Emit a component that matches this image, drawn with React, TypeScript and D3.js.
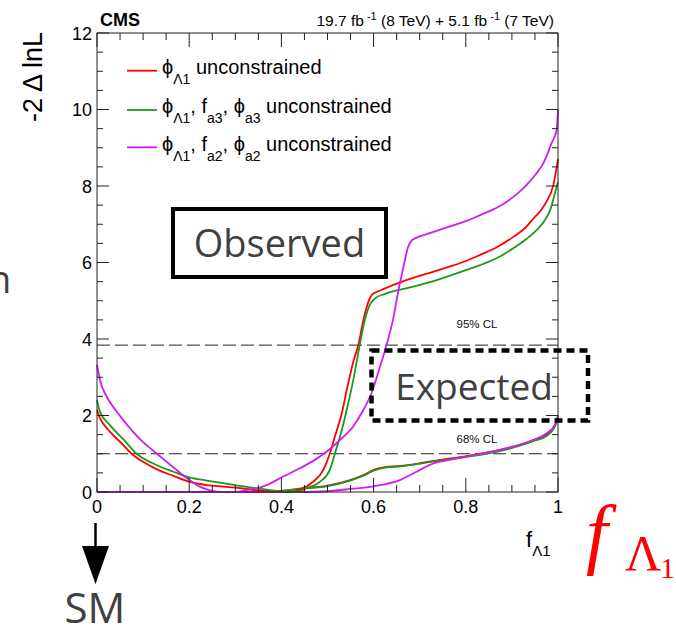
import React from 'react';
import * as d3 from 'd3';

const W = 676;
const H = 628;
const PL = 97, PR = 558, PB = 492, PT = 33;

// axis ticks
const xMajor = [0, 0.2, 0.4, 0.6, 0.8, 1];
const xLabels = ['0', '0.2', '0.4', '0.6', '0.8', '1'];
const yMajor = [0, 2, 4, 6, 8, 10, 12];
const yLabels = ['0', '2', '4', '6', '8', '10', '12'];

// observed scans
const obsRedF = [0, 0.0065, 0.028, 0.057, 0.075, 0.1, 0.13, 0.166, 0.2, 0.238, 0.274, 0.31, 0.346, 0.375, 0.4, 0.42, 0.44, 0.469, 0.491, 0.505, 0.516, 0.531, 0.545, 0.557, 0.567, 0.578, 0.588, 0.596, 0.605, 0.617, 0.65, 0.686, 0.72, 0.759, 0.8, 0.831, 0.87, 0.903, 0.93, 0.947, 0.965, 0.975, 0.99, 1.0];
const obsRedV = [2.14, 1.93, 1.58, 1.23, 1.0, 0.79, 0.59, 0.42, 0.27, 0.18, 0.14, 0.1, 0.05, 0.03, 0.01, 0.0, 0.06, 0.27, 0.58, 1.0, 1.45, 2.06, 2.85, 3.45, 3.85, 4.5, 4.95, 5.15, 5.22, 5.28, 5.45, 5.6, 5.72, 5.87, 6.04, 6.2, 6.42, 6.67, 6.92, 7.15, 7.4, 7.59, 8.03, 8.7];

const obsGreenF = [0, 0.0065, 0.028, 0.057, 0.086, 0.13, 0.166, 0.2, 0.238, 0.274, 0.31, 0.346, 0.375, 0.41, 0.43, 0.455, 0.484, 0.505, 0.516, 0.531, 0.545, 0.556, 0.57, 0.581, 0.592, 0.603, 0.625, 0.65, 0.686, 0.72, 0.759, 0.8, 0.831, 0.87, 0.903, 0.93, 0.954, 0.97, 0.983, 0.997, 1.0];
const obsGreenV = [2.4, 2.1, 1.75, 1.38, 1.0, 0.7, 0.53, 0.38, 0.3, 0.23, 0.16, 0.1, 0.05, 0.01, 0.0, 0.1, 0.27, 0.58, 1.0, 1.62, 2.32, 2.93, 3.85, 4.5, 4.9, 5.06, 5.18, 5.27, 5.37, 5.48, 5.63, 5.8, 5.93, 6.13, 6.37, 6.6, 6.85, 7.08, 7.37, 7.98, 8.11];

const obsMagF = [0, 0.0065, 0.021, 0.04, 0.057, 0.075, 0.093, 0.11, 0.13, 0.15, 0.166, 0.195, 0.223, 0.24, 0.252, 0.27, 0.29, 0.31, 0.325, 0.354, 0.375, 0.4, 0.44, 0.47, 0.5, 0.527, 0.556, 0.578, 0.596, 0.612, 0.628, 0.642, 0.654, 0.665, 0.675, 0.683, 0.69, 0.72, 0.759, 0.8, 0.831, 0.87, 0.889, 0.91, 0.932, 0.95, 0.968, 0.986, 0.997, 1.0];
const obsMagV = [3.32, 2.93, 2.49, 2.15, 1.88, 1.62, 1.38, 1.2, 1.0, 0.8, 0.64, 0.36, 0.14, 0.06, 0.02, 0.0, 0.0, 0.01, 0.05, 0.12, 0.22, 0.38, 0.62, 0.82, 1.07, 1.36, 1.72, 2.15, 2.6, 3.2, 3.84, 4.5, 5.28, 5.9, 6.41, 6.58, 6.63, 6.76, 6.92, 7.08, 7.24, 7.45, 7.59, 7.78, 8.03, 8.28, 8.59, 9.12, 9.46, 9.99];

// expected scans
const expRedF = [0, 0.1, 0.2, 0.3, 0.35, 0.4, 0.447, 0.498, 0.549, 0.578, 0.603, 0.625, 0.657, 0.7, 0.744, 0.802, 0.874, 0.947, 0.975, 0.993, 1.0];
const expRedV = [0, 0.0, 0.0, 0.0, 0.01, 0.03, 0.1, 0.16, 0.31, 0.44, 0.59, 0.65, 0.68, 0.75, 0.84, 0.94, 1.1, 1.36, 1.5, 1.75, 1.97];
const expGreenF = [0, 0.1, 0.2, 0.3, 0.35, 0.4, 0.447, 0.498, 0.549, 0.578, 0.603, 0.625, 0.657, 0.7, 0.744, 0.802, 0.874, 0.947, 0.975, 0.993, 1.0];
const expGreenV = [0, 0.0, 0.0, 0.0, 0.01, 0.03, 0.09, 0.15, 0.3, 0.43, 0.57, 0.64, 0.67, 0.74, 0.82, 0.92, 1.07, 1.33, 1.46, 1.7, 1.92];
const expMagF = [0, 0.2, 0.4, 0.45, 0.5, 0.55, 0.6, 0.657, 0.693, 0.73, 0.77, 0.802, 0.874, 0.946, 0.975, 0.993, 1.0];
const expMagV = [0, 0.0, 0.0, 0.0, 0.02, 0.08, 0.15, 0.31, 0.53, 0.75, 0.85, 0.93, 1.1, 1.36, 1.53, 1.75, 2.01];

const clLevels = [1.0, 3.84];
const clLabels = ['68% CL', '95% CL'];
const clLabelY = [1.28, 4.3];

const RED = '#ff0000';
const GREEN = '#1a9a1a';
const MAG = '#d21cf2';

const series = [
  { f: expRedF, v: expRedV, c: RED },
  { f: expGreenF, v: expGreenV, c: GREEN },
  { f: expMagF, v: expMagV, c: MAG },
  { f: obsRedF, v: obsRedV, c: RED },
  { f: obsGreenF, v: obsGreenV, c: GREEN },
  { f: obsMagF, v: obsMagV, c: MAG },
];

export default function App() {
  const x = d3.scaleLinear().domain([0, 1]).range([PL, PR]);
  const y = d3.scaleLinear().domain([0, 12]).range([PB, PT]);
  const line = d3
    .line<[number, number]>()
    .x((d) => x(d[0]))
    .y((d) => y(d[1]))
    .curve(d3.curveMonotoneX);

  const xMinor = d3.range(0, 1.0001, 0.05).filter((t) => Math.abs(t * 5 - Math.round(t * 5)) > 1e-6);
  const yMinor = d3.range(0, 12.001, 0.5).filter((t) => Math.abs(t / 2 - Math.round(t / 2)) > 1e-6);

  const sans = 'Liberation Sans, Arial, Helvetica, sans-serif';
  const open = 'Open Sans, sans-serif';
  const serif = 'Liberation Serif, DejaVu Serif, serif';
  const axisCol = '#222';

  return (
    <svg width={W} height={H} style={{ position: 'absolute', left: 0, top: 0, background: '#fff' }} fontFamily={sans}>
      <rect x={0} y={0} width={W} height={H} fill="#fff" />

      {/* cropped letter at left edge */}
      <text x={-12} y={293} fontFamily={open} fontSize={38} fill="#404040">n</text>

      {/* CL lines */}
      {clLevels.map((l, i) => (
        <line key={'cl' + i} x1={PL} x2={PR} y1={y(l)} y2={y(l)} stroke="#222" strokeWidth={1} strokeDasharray="13,5" />
      ))}
      {clLabels.map((t, i) => (
        <text key={'cll' + i} x={x(0.78)} y={y(clLabelY[i])} fontSize={11.5} fill="#111">{t}</text>
      ))}

      {/* curves */}
      {series.map((s, i) => (
        <path
          key={'s' + i}
          d={line(d3.zip(s.f, s.v) as [number, number][]) || ''}
          fill="none"
          stroke={s.c}
          strokeWidth={1.8}
        />
      ))}

      {/* frame */}
      <rect x={PL} y={PT} width={PR - PL} height={PB - PT} fill="none" stroke={axisCol} strokeWidth={1} />

      {/* x ticks */}
      {xMajor.map((t) => (
        <g key={'xm' + t}>
          <line x1={x(t)} x2={x(t)} y1={PB} y2={PB - 14} stroke={axisCol} />
          <line x1={x(t)} x2={x(t)} y1={PT} y2={PT + 14} stroke={axisCol} />
        </g>
      ))}
      {xMinor.map((t) => (
        <g key={'xn' + t}>
          <line x1={x(t)} x2={x(t)} y1={PB} y2={PB - 7} stroke={axisCol} />
          <line x1={x(t)} x2={x(t)} y1={PT} y2={PT + 7} stroke={axisCol} />
        </g>
      ))}
      {xMajor.map((t, i) => (
        <text key={'xl' + t} x={x(t)} y={513} fontSize={18} textAnchor="middle" fill="#000">{xLabels[i]}</text>
      ))}

      {/* y ticks */}
      {yMajor.map((t) => (
        <g key={'ym' + t}>
          <line x1={PL} x2={PL + 12} y1={y(t)} y2={y(t)} stroke={axisCol} />
          <line x1={PR} x2={PR - 12} y1={y(t)} y2={y(t)} stroke={axisCol} />
        </g>
      ))}
      {yMinor.map((t) => (
        <g key={'yn' + t}>
          <line x1={PL} x2={PL + 6} y1={y(t)} y2={y(t)} stroke={axisCol} />
          <line x1={PR} x2={PR - 6} y1={y(t)} y2={y(t)} stroke={axisCol} />
        </g>
      ))}
      {yMajor.map((t, i) => (
        <text key={'yl' + t} x={92} y={y(t) + 6.5} fontSize={18} textAnchor="end" fill="#000">{yLabels[i]}</text>
      ))}

      {/* axis titles */}
      <text transform="translate(42,32) rotate(-90)" fontSize={27} textAnchor="end" fill="#000">-2 Δ lnL</text>
      <text x={526} y={547} fontSize={22} fill="#000">
        f<tspan fontSize={15} dy={9}>Λ1</tspan>
      </text>

      {/* header */}
      <text x={100} y={26} fontSize={18} fontWeight="bold" fill="#000">CMS</text>
      <text x={554} y={26} fontSize={15.5} textAnchor="end" fill="#000">
        19.7 fb<tspan fontSize={11} dy={-6}> -1</tspan>
        <tspan dy={6}> (8 TeV) + 5.1 fb</tspan>
        <tspan fontSize={11} dy={-6}> -1</tspan>
        <tspan dy={6}> (7 TeV)</tspan>
      </text>

      {/* legend */}
      <line x1={127} x2={157} y1={70.7} y2={70.7} stroke={RED} strokeWidth={1.8} />
      <line x1={127} x2={157} y1={110} y2={110} stroke={GREEN} strokeWidth={1.8} />
      <line x1={127} x2={157} y1={147.3} y2={147.3} stroke={MAG} strokeWidth={1.8} />
      <text x={162} y={73.5} fontSize={20} fill="#000">
        ϕ<tspan fontSize={14} dy={10}>Λ1</tspan>
        <tspan dy={-10}> unconstrained</tspan>
      </text>
      <text x={162} y={113} fontSize={20} fill="#000">
        ϕ<tspan fontSize={14} dy={10}>Λ1</tspan>
        <tspan dy={-10}>, f</tspan>
        <tspan fontSize={14} dy={10}>a3</tspan>
        <tspan dy={-10}>, ϕ</tspan>
        <tspan fontSize={14} dy={10}>a3</tspan>
        <tspan dy={-10}> unconstrained</tspan>
      </text>
      <text x={162} y={151} fontSize={20} fill="#000">
        ϕ<tspan fontSize={14} dy={10}>Λ1</tspan>
        <tspan dy={-10}>, f</tspan>
        <tspan fontSize={14} dy={10}>a2</tspan>
        <tspan dy={-10}>, ϕ</tspan>
        <tspan fontSize={14} dy={10}>a2</tspan>
        <tspan dy={-10}> unconstrained</tspan>
      </text>

      {/* Observed box */}
      <rect x={173} y={209} width={213} height={68} fill="#fff" stroke="#000" strokeWidth={4} />
      <text x={279.5} y={257} fontFamily={open} fontSize={38} textAnchor="middle" fill="#404040">Observed</text>

      {/* Expected box */}
      <rect x={371.5} y={350.5} width={216.5} height={70} fill="none" stroke="#000" strokeWidth={4.5} strokeDasharray="8,5" />
      <text x={474} y={400} fontFamily={open} fontSize={37} textAnchor="middle" fill="#404040">Expected</text>

      {/* SM arrow */}
      <line x1={95.5} x2={95.5} y1={523} y2={548} stroke="#000" strokeWidth={2.5} />
      <path d="M82,546 L109,546 L95.5,584 Z" fill="#000" />
      <text x={95} y={623} fontFamily={open} fontSize={42} textAnchor="middle" fill="#404040">SM</text>

      {/* big red label */}
      <text x={586} y={559} fontFamily={serif} fontStyle="italic" fontSize={78} fill="#ff0000">f</text>
      <text x={625} y={570} fontFamily={serif} fontSize={50} fill="#ff0000">Λ</text>
      <text x={660} y={578} fontFamily={serif} fontSize={30} fill="#ff0000">1</text>
    </svg>
  );
}
